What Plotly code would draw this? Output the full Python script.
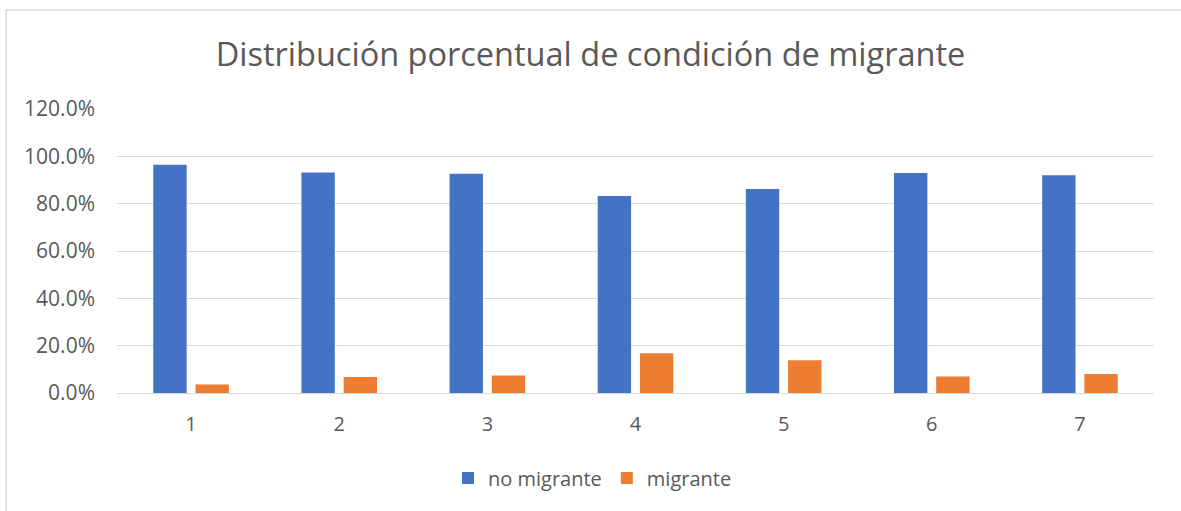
import plotly.graph_objects as go

categories = ["1", "2", "3", "4", "5", "6", "7"]
no_migrante = [0.964, 0.932, 0.926, 0.832, 0.862, 0.930, 0.920]
migrante = [0.036, 0.068, 0.074, 0.168, 0.138, 0.070, 0.080]
y_ticks = [0, 0.2, 0.4, 0.6, 0.8, 1.0, 1.2]

W, H = 1181, 511
L, R, T, B = 117, 27, 109, 118
pw, ph = W - L - R, H - T - B

fig = go.Figure()
fig.add_trace(go.Bar(x=categories, y=no_migrante, name="no migrante",
                     marker=dict(color="#4472C4", line=dict(width=0))))
fig.add_trace(go.Bar(x=categories, y=migrante, name="migrante",
                     marker=dict(color="#ED7D31", line=dict(width=0))))

font_family = "Open Sans, Liberation Sans, sans-serif"

fig.update_layout(
    width=W, height=H,
    margin=dict(l=L, r=R, t=T, b=B),
    paper_bgcolor="white", plot_bgcolor="white",
    barmode="group", bargap=0.43, bargroupgap=0.21,
    font=dict(family=font_family, color="#595959"),
    title=dict(text="Distribución porcentual de condición de migrante",
               x=0.5, xanchor="center", y=1 - 55 / H, yanchor="middle",
               font=dict(size=32.5, color="#595959", family=font_family)),
    legend=dict(orientation="h", x=0.5 - 43 / pw, xanchor="center",
                y=(H - B - 478) / ph, yanchor="middle",
                font=dict(size=20, color="#595959"), itemwidth=30,
                traceorder="normal"),
    showlegend=True,
)
fig.update_yaxes(range=[0, 1.2], tickvals=y_ticks, tickformat=".1%",
                 showgrid=True, gridcolor="#D9D9D9", gridwidth=1,
                 zeroline=False, showline=False,
                 tickfont=dict(size=21, color="#595959"),
                 ticklabelstandoff=21)
fig.update_xaxes(showgrid=False, showline=True, linecolor="#D9D9D9", linewidth=1,
                 tickfont=dict(size=20, color="#595959"),
                 ticks="", ticklabelstandoff=13)

# chart border (left and top visible)
x_left = (6 - L) / pw
y_top = (H - B - 10) / ph
fig.add_shape(type="line", xref="paper", yref="paper", x0=x_left, x1=x_left,
              y0=-B / ph, y1=y_top, line=dict(color="#D9D9D9", width=1.5))
fig.add_shape(type="line", xref="paper", yref="paper", x0=x_left, x1=(W - L) / pw,
              y0=y_top, y1=y_top, line=dict(color="#D9D9D9", width=1.5))

fig.write_html("out.html", config={"displayModeBar": False},
               post_script="document.body.style.margin='0';document.body.style.overflow='hidden';")
